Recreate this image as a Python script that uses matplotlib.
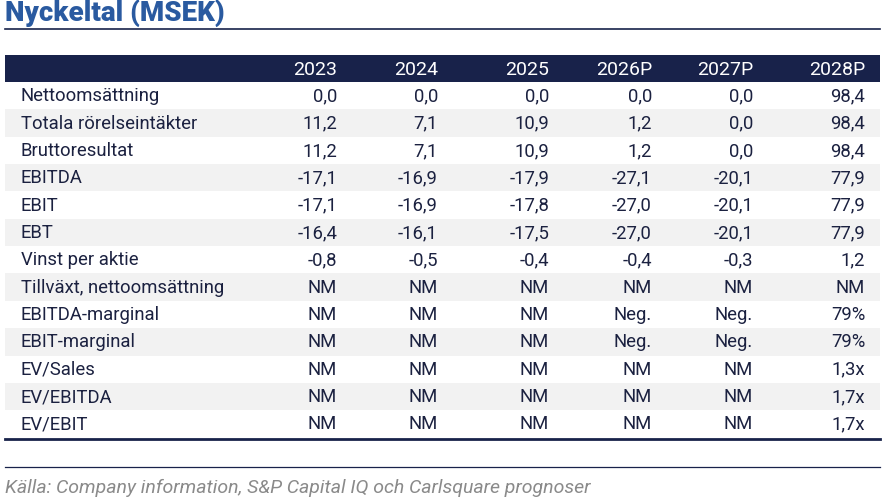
import matplotlib.pyplot as plt
from matplotlib.patches import Rectangle

plt.rcParams['font.family'] = ['Roboto', 'DejaVu Sans']

title = 'Nyckeltal (MSEK)'
years = ['2023', '2024', '2025', '2026P', '2027P', '2028P']
row_labels = ['Nettoomsättning', 'Totala rörelseintäkter', 'Bruttoresultat', 'EBITDA',
              'EBIT', 'EBT', 'Vinst per aktie', 'Tillväxt, nettoomsättning',
              'EBITDA-marginal', 'EBIT-marginal', 'EV/Sales', 'EV/EBITDA', 'EV/EBIT']
cells = [
    ['0,0', '0,0', '0,0', '0,0', '0,0', '98,4'],
    ['11,2', '7,1', '10,9', '1,2', '0,0', '98,4'],
    ['11,2', '7,1', '10,9', '1,2', '0,0', '98,4'],
    ['-17,1', '-16,9', '-17,9', '-27,1', '-20,1', '77,9'],
    ['-17,1', '-16,9', '-17,8', '-27,0', '-20,1', '77,9'],
    ['-16,4', '-16,1', '-17,5', '-27,0', '-20,1', '77,9'],
    ['-0,8', '-0,5', '-0,4', '-0,4', '-0,3', '1,2'],
    ['NM', 'NM', 'NM', 'NM', 'NM', 'NM'],
    ['NM', 'NM', 'NM', 'Neg.', 'Neg.', '79%'],
    ['NM', 'NM', 'NM', 'Neg.', 'Neg.', '79%'],
    ['NM', 'NM', 'NM', 'NM', 'NM', '1,3x'],
    ['NM', 'NM', 'NM', 'NM', 'NM', '1,7x'],
    ['NM', 'NM', 'NM', 'NM', 'NM', '1,7x'],
]
source = 'Källa: Company information, S&P Capital IQ och Carlsquare prognoser'

navy = '#18224a'
text_col = '#1b2140'
stripe = '#f2f2f2'

W, H = 891, 498
fig = plt.figure(figsize=(W / 100, H / 100), dpi=100)
ax = fig.add_axes([0, 0, 1, 1])
ax.set_xlim(0, W)
ax.set_ylim(H, 0)
ax.axis('off')

left, right = 5, 880
col_right = [337, 438, 549, 652, 753, 865]
label_x = 21
fs = 13.3

# titel
ax.text(left, 21, title, fontsize=20, fontweight='black', color='#2a5aa0', va='baseline', ha='left')
ax.plot([left, right], [28.5, 28.5], color=navy, lw=1.2)

# rubrikrad
head_top, head_bot = 55, 82
ax.add_patch(Rectangle((left, head_top), right - left, head_bot - head_top, color=navy, lw=0))
for x, y in zip(col_right, years):
    ax.text(x, 70, y, fontsize=14, color='white', ha='right', va='center')

row_h = 27.35
for i, (lab, vals) in enumerate(zip(row_labels, cells)):
    y0 = head_bot + i * row_h
    if i % 2 == 1:
        ax.add_patch(Rectangle((left, y0), right - left, row_h, color=stripe, lw=0))
    yc = y0 + row_h / 2 + 0.5
    ax.text(label_x, yc, lab, fontsize=fs, color=text_col, ha='left', va='center')
    for x, v in zip(col_right, vals):
        ax.text(x, yc, v, fontsize=fs, color=text_col, ha='right', va='center')

bottom = head_bot + len(row_labels) * row_h
ax.plot([left, right], [bottom + 1.5, bottom + 1.5], color=navy, lw=2)

# källa
ax.plot([left, right], [467, 467], color=navy, lw=0.9)
ax.text(left, 488, source, fontsize=14, style='italic', color='#8a8a8a', ha='left', va='center')

fig.savefig('out.png', dpi=100)
